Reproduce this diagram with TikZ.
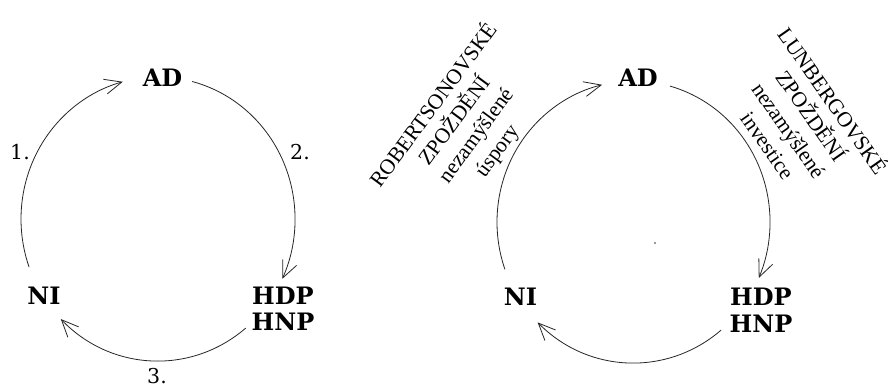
\documentclass[tikz,border=0pt]{standalone}
\usepackage{fontspec}
\setmainfont{DejaVu Serif}
\newfontfamily\rotfont{Liberation Serif}
\usetikzlibrary{arrows.meta}
\begin{document}
\begin{tikzpicture}[x=1pt,y=1pt,
  lbl/.style={font=\fontsize{24}{26.5}\selectfont\bfseries, inner sep=0pt, align=center},
  num/.style={font=\fontsize{20.5}{24}\selectfont, inner sep=0pt},
  rot/.style={font=\rotfont\fontsize{21.5}{26}\selectfont, inner sep=0pt, align=center},
  conn/.style={line width=0.8pt, draw=black!85, -{Straight Barb[length=17pt,width=15pt,line width=0.8pt]}}]
\useasboundingbox[fill=white] (0,0) rectangle (888,383);

% ---------- left cycle ----------
\node[lbl] (AD1) at (162.5,305.5) {AD};
\node[lbl] (NI1) at (44,87) {NI};
\node[lbl] (HD1) at (283,74) {HDP\\HNP};
\node[num] (n1) at (20,231) {1.};
\node[num] (n2) at (300,231) {2.};
\node[num] (n3) at (157,7) {3.};

\coordinate (L1s) at (29.1,115.9);
\coordinate (L2s) at (192.1,301.5);
\coordinate (L3s) at (245.7,54.9);
\draw[conn] (L1s) arc[start angle=199.8, end angle=104.9, x radius=137pt, y radius=142pt];
\draw[conn] (L2s) arc[start angle=75.6, end angle=-24.9, x radius=137pt, y radius=142pt];
\draw[conn] (L3s) arc[start angle=-50.2, end angle=-135.2, x radius=137pt, y radius=142pt];

% ---------- right cycle ----------
\node[lbl] (AD2) at (638,305) {AD};
\node[lbl] (NI2) at (520.5,86) {NI};
\node[lbl] (HD2) at (761,72.5) {HDP\\HNP};

\coordinate (R1s) at (504.9,113.7);
\coordinate (R2s) at (670,296.9);
\coordinate (R3s) at (721.2,53);
\draw[conn] (R1s) arc[start angle=199.6, end angle=103.3, x radius=136.5pt, y radius=141pt];
\draw[conn] (R2s) arc[start angle=74.5, end angle=-23.4, x radius=136.5pt, y radius=141pt];
\draw[conn] (R3s) arc[start angle=-50, end angle=-134.6, x radius=136.5pt, y radius=141pt];

\fill[black!80] (655,140) circle (0.9pt);

\node[rot, rotate=53.6] (rob) at (442,271.5) {ROBERTSONOVSKÉ\\ZPOŽDĚNÍ};
\node[rot, rotate=53.6] (usp) at (487.5,239) {nezamýšlené\\úspory};
\node[rot, rotate=-55] (lun) at (823,275.5) {LUNBERGOVSKÉ\\ZPOŽDĚNÍ};
\node[rot, rotate=-55] (inv) at (778,245) {nezamýšlené\\investice};
\end{tikzpicture}
\end{document}
